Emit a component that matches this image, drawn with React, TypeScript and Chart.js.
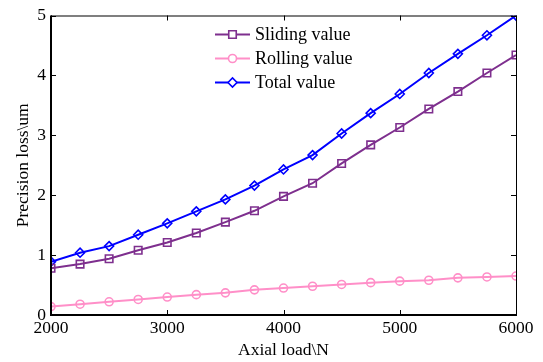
import React, { useEffect, useRef } from "react";
import { Chart, registerables } from "chart.js";
import { drawPoint } from "chart.js/helpers";

Chart.register(...registerables);

// Axial load (N) and precision loss (um) for each component
const axialLoads = [2000, 2250, 2500, 2750, 3000, 3250, 3500, 3750, 4000, 4250, 4500, 4750, 5000, 5250, 5500, 5750, 6000];
const slidingValues = [0.78, 0.85, 0.94, 1.08, 1.21, 1.37, 1.55, 1.74, 1.98, 2.2, 2.53, 2.84, 3.13, 3.44, 3.73, 4.04, 4.34];
const rollingValues = [0.14, 0.18, 0.22, 0.26, 0.3, 0.34, 0.37, 0.42, 0.45, 0.48, 0.51, 0.54, 0.565, 0.58, 0.62, 0.635, 0.65];
const totalValues = [0.89, 1.04, 1.15, 1.34, 1.53, 1.73, 1.93, 2.16, 2.43, 2.67, 3.03, 3.37, 3.69, 4.04, 4.36, 4.67, 5.0];
const xTicks = [2000, 3000, 4000, 5000, 6000];
const yTicks = [0, 1, 2, 3, 4, 5];

const FONT = "'Liberation Serif', 'Times New Roman', serif";

const toPoints = (ys: number[]) => axialLoads.map((x, i) => ({ x, y: ys[i] }));

// Box frame with inward-pointing ticks on all four sides
const framePlugin = {
  id: "frame",
  afterDatasetsDraw(chart: any) {
    const { ctx, chartArea: a, scales } = chart;
    ctx.save();
    ctx.strokeStyle = "#000";
    ctx.lineWidth = 1;
    ctx.strokeRect(a.left + 0.5, a.top + 0.5, a.right - a.left, a.bottom - a.top);
    ctx.lineWidth = 2;
    ctx.beginPath();
    ctx.moveTo(a.left, a.top);
    ctx.lineTo(a.left, a.bottom);
    ctx.lineTo(a.right + 1, a.bottom);
    ctx.stroke();
    ctx.lineWidth = 1;
    const len = 5;
    ctx.beginPath();
    xTicks.forEach((v) => {
      const px = Math.round(scales.x.getPixelForValue(v)) + 0.5;
      ctx.moveTo(px, a.bottom);
      ctx.lineTo(px, a.bottom - len);
      ctx.moveTo(px, a.top);
      ctx.lineTo(px, a.top + len);
    });
    yTicks.forEach((v) => {
      const py = Math.round(scales.y.getPixelForValue(v)) + 0.5;
      ctx.moveTo(a.left, py);
      ctx.lineTo(a.left + len, py);
      ctx.moveTo(a.right, py);
      ctx.lineTo(a.right - len, py);
    });
    ctx.stroke();
    ctx.restore();
  },
  afterDraw(chart: any) {
    // Legend with line + marker samples inside the plot area
    const { ctx, chartArea: a } = chart;
    const x0 = a.left + 164;
    const x1 = a.left + 199;
    chart.data.datasets.forEach((ds: any, i: number) => {
      const y = a.top + 19 + i * 24;
      ctx.save();
      ctx.strokeStyle = ds.borderColor;
      ctx.lineWidth = ds.borderWidth;
      ctx.beginPath();
      ctx.moveTo(x0, y);
      ctx.lineTo(x1, y);
      ctx.stroke();
      ctx.fillStyle = "#fff";
      ctx.strokeStyle = ds.pointBorderColor;
      ctx.lineWidth = ds.pointBorderWidth;
      drawPoint(ctx, { pointStyle: ds.pointStyle, radius: ds.pointRadius, borderWidth: ds.pointBorderWidth, rotation: 0 }, (x0 + x1) / 2, y);
      ctx.fillStyle = "#000";
      ctx.font = `18px ${FONT}`;
      ctx.textBaseline = "middle";
      ctx.textAlign = "left";
      ctx.fillText(ds.label, x1 + 5, y + 1);
      ctx.restore();
    });
  },
};

export default function App() {
  const ref = useRef<HTMLCanvasElement | null>(null);

  useEffect(() => {
    document.body.style.margin = "0";
    const canvas = ref.current;
    if (!canvas) return;
    const chart = new Chart(canvas, {
      type: "line",
      data: {
        datasets: [
          {
            label: "Sliding value",
            data: toPoints(slidingValues),
            borderColor: "#7E2F8E",
            borderWidth: 2,
            pointStyle: "rect",
            pointRadius: 5.3,
            pointBorderWidth: 1.6,
            pointBorderColor: "#7E2F8E",
            pointBackgroundColor: "rgba(255,255,255,0)",
          },
          {
            label: "Rolling value",
            data: toPoints(rollingValues),
            borderColor: "#FF8FC8",
            borderWidth: 2,
            pointStyle: "circle",
            pointRadius: 4,
            pointBorderWidth: 1.6,
            pointBorderColor: "#FF8FC8",
            pointBackgroundColor: "rgba(255,255,255,0)",
          },
          {
            label: "Total value",
            data: toPoints(totalValues),
            borderColor: "#0000FF",
            borderWidth: 2,
            pointStyle: "rectRot",
            pointRadius: 4.5,
            pointBorderWidth: 1.6,
            pointBorderColor: "#0000FF",
            pointBackgroundColor: "rgba(255,255,255,0)",
          },
        ],
      },
      options: {
        animation: false,
        responsive: false,
        devicePixelRatio: 1,
        layout: { padding: { left: 0, top: 14, right: 27, bottom: 0 } },
        plugins: { legend: { display: false }, tooltip: { enabled: false } },
        elements: { line: { tension: 0 } },
        scales: {
          x: {
            type: "linear",
            min: 2000,
            max: 6000,
            afterBuildTicks: (s: any) => { s.ticks = xTicks.map((v) => ({ value: v })); },
            afterFit: (s: any) => { s.height = 47; },
            grid: { display: false, drawTicks: false },
            border: { display: false },
            ticks: { color: "#000", font: { family: FONT, size: 17.5 }, padding: 3, maxRotation: 0, callback: (v: any) => String(v) },
            title: { display: true, text: "Axial load\\N", color: "#000", font: { family: FONT, size: 17.5 }, padding: { top: 0, bottom: 1 } },
          },
          y: {
            min: 0,
            max: 5,
            afterBuildTicks: (s: any) => { s.ticks = yTicks.map((v) => ({ value: v })); },
            afterFit: (s: any) => { s.width = 51; },
            grid: { display: false, drawTicks: false },
            border: { display: false },
            ticks: { color: "#000", font: { family: FONT, size: 17.5 }, padding: 5, callback: (v: any) => String(v) },
            title: { display: true, text: "Precision loss\\um", color: "#000", font: { family: FONT, size: 17.5 }, padding: { top: 13, bottom: 0 } },
          },
        },
      },
      plugins: [framePlugin],
    });
    return () => chart.destroy();
  }, []);

  return <canvas ref={ref} width={543} height={362} style={{ display: "block" }} />;
}
